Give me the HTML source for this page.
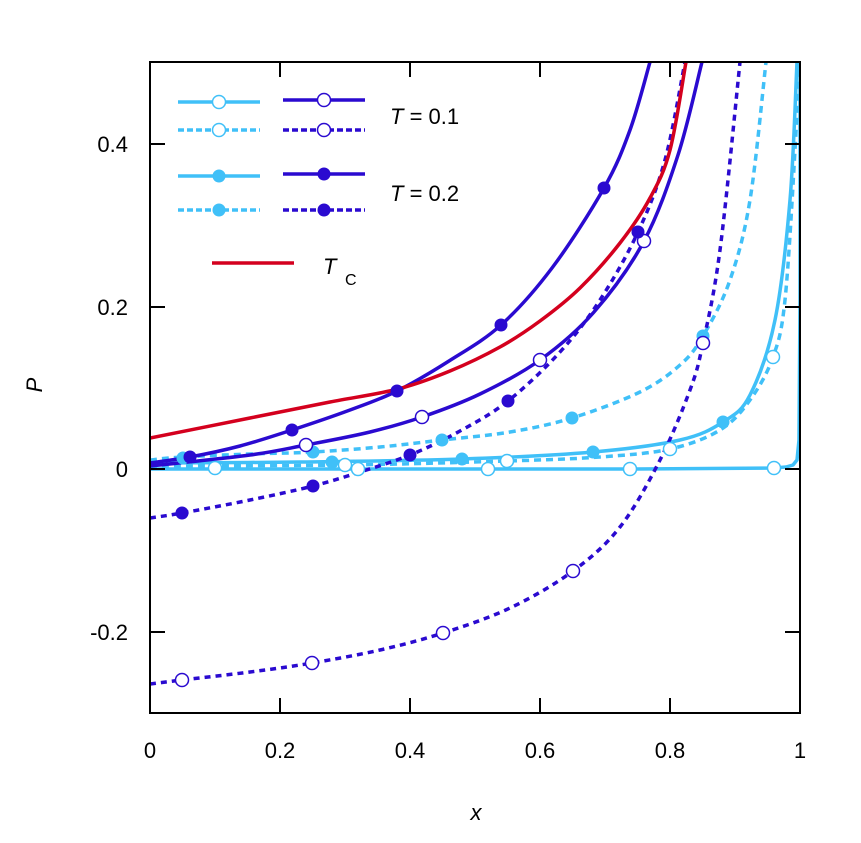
<!DOCTYPE html>
<html><head><meta charset="utf-8"><style>
body{margin:0;background:#fff}
svg{display:block;font-family:"Liberation Sans",sans-serif}
</style></head><body>
<svg id="s" width="861" height="843" viewBox="0 0 861 843">
<defs><clipPath id="c"><rect x="150" y="62" width="650" height="651"/></clipPath></defs>
<g fill="none" stroke-linejoin="round" clip-path="url(#c)">
<polyline stroke="#40c0f8" stroke-width="3.5" points="150,469 400,469 630,469 774,468 786,467 793,465 797,460 799,440 800,300 800,62"/>
<polyline class="sm" stroke="#40c0f8" stroke-width="3.5" points="150,463 300,462 462,459 593,452 680,440 723,422 750,395 775,320 790,200 797,62"/>
<polyline class="sm" stroke="#40c0f8" stroke-width="3.5" stroke-dasharray="7,5" points="150,466 345,465 507,461 600,457 670,449 720,430 750,400 773,357 785,300 795,150 799,62"/>
<polyline class="sm" stroke="#40c0f8" stroke-width="3.5" stroke-dasharray="7,5" points="150,460 182,457 250,454 313,452 380,447 442,440 510,432 572,418 640,392 680,365 703,336 730,280 750,200 766,62"/>
<polyline class="sm" stroke="#2a0ad0" stroke-width="3.5" points="150,463 190,457 240,446 292,430 350,410 397,391 449,361 501,325 552,268 604,188 630,130 650,62"/>
<polyline class="sm" stroke="#2a0ad0" stroke-width="3.5" points="150,466 250,455 306,445 370,432 422,417 480,394 540,360 594,312 644,241 678,155 702,62"/>
<polyline class="sm" stroke="#2a0ad0" stroke-width="3.5" stroke-dasharray="6,5" points="150,518 182,513 250,500 313,486 360,472 410,455 460,431 508,401 560,352 600,300 638,232 665,160 685,62"/>
<polyline class="sm" stroke="#2a0ad0" stroke-width="3.5" stroke-dasharray="6,5" points="150,684 182,680 250,672 312,663 380,650 443,633 510,608 573,571 620,527 660,460 690,390 703,343 720,250 740,62"/>
<polyline class="sm" stroke="#d4001e" stroke-width="3.5" points="150,438 250,418 330,402 398,389 450,371 500,347 540,321 580,288 620,243 650,198 670,150 686,62"/>
</g>
<g fill="#fff" stroke="#40c0f8" stroke-width="1.5">
<circle cx="215" cy="468" r="6.5"/><circle cx="358" cy="469" r="6.5"/><circle cx="488" cy="469" r="6.5"/><circle cx="630" cy="469" r="6.5"/><circle cx="774" cy="468" r="6.5"/>
<circle cx="345" cy="465" r="6.5"/><circle cx="507" cy="461" r="6.5"/><circle cx="670" cy="449" r="6.5"/><circle cx="773" cy="357" r="6.5"/>
</g>
<g fill="#40c0f8">
<circle cx="183" cy="458" r="6.5"/><circle cx="313" cy="452" r="6.5"/><circle cx="442" cy="440" r="6.5"/><circle cx="572" cy="418" r="6.5"/><circle cx="703" cy="336" r="6.5"/>
<circle cx="332" cy="462" r="6.5"/><circle cx="462" cy="459" r="6.5"/><circle cx="593" cy="452" r="6.5"/><circle cx="723" cy="422" r="6.5"/>
</g>
<g fill="#fff" stroke="#2a0ad0" stroke-width="1.5">
<circle cx="306" cy="445" r="6.5"/><circle cx="422" cy="417" r="6.5"/><circle cx="540" cy="360" r="6.5"/><circle cx="644" cy="241" r="6.5"/>
<circle cx="182" cy="680" r="6.5"/><circle cx="312" cy="663" r="6.5"/><circle cx="443" cy="633" r="6.5"/><circle cx="573" cy="571" r="6.5"/><circle cx="703" cy="343" r="6.5"/>
</g>
<g fill="#2a0ad0">
<circle cx="190" cy="457" r="6.5"/><circle cx="292" cy="430" r="6.5"/><circle cx="397" cy="391" r="6.5"/><circle cx="501" cy="325" r="6.5"/><circle cx="604" cy="188" r="6.5"/>
<circle cx="182" cy="513" r="6.5"/><circle cx="313" cy="486" r="6.5"/><circle cx="410" cy="455" r="6.5"/><circle cx="508" cy="401" r="6.5"/><circle cx="638" cy="232" r="6.5"/>
</g>
<g stroke-width="3.5">
<line x1="178" y1="102" x2="260" y2="102" stroke="#40c0f8"/>
<line x1="178" y1="130" x2="260" y2="130" stroke="#40c0f8" stroke-dasharray="6,3"/>
<line x1="178" y1="176" x2="260" y2="176" stroke="#40c0f8"/>
<line x1="178" y1="210" x2="260" y2="210" stroke="#40c0f8" stroke-dasharray="6,3"/>
<line x1="283" y1="100" x2="365" y2="100" stroke="#2a0ad0"/>
<line x1="283" y1="130" x2="365" y2="130" stroke="#2a0ad0" stroke-dasharray="6,3"/>
<line x1="283" y1="174" x2="365" y2="174" stroke="#2a0ad0"/>
<line x1="283" y1="210" x2="365" y2="210" stroke="#2a0ad0" stroke-dasharray="6,3"/>
<line x1="212" y1="263" x2="294" y2="263" stroke="#d4001e"/>
</g>
<circle cx="219" cy="102" r="6.5" fill="#fff" stroke="#40c0f8" stroke-width="1.5"/>
<circle cx="219" cy="130" r="6.5" fill="#fff" stroke="#40c0f8" stroke-width="1.5"/>
<circle cx="219" cy="176" r="6.5" fill="#40c0f8"/>
<circle cx="219" cy="210" r="6.5" fill="#40c0f8"/>
<circle cx="324" cy="100" r="6.5" fill="#fff" stroke="#2a0ad0" stroke-width="1.5"/>
<circle cx="324" cy="130" r="6.5" fill="#fff" stroke="#2a0ad0" stroke-width="1.5"/>
<circle cx="324" cy="174" r="6.5" fill="#2a0ad0"/>
<circle cx="324" cy="210" r="6.5" fill="#2a0ad0"/>
<g font-size="22" fill="#000">
<text x="390" y="124"><tspan font-style="italic">T</tspan> = 0.1</text>
<text x="390" y="201"><tspan font-style="italic">T</tspan> = 0.2</text>
<text x="323" y="274" font-style="italic">T</text>
<text x="345" y="285" font-size="16">C</text>
</g>
<rect x="150" y="62" width="650" height="651" fill="none" stroke="#000" stroke-width="2"/>
<g stroke="#000" stroke-width="2">
<path d="M280,713v-15M410,713v-15M540,713v-15M670,713v-15M280,62v15M410,62v15M540,62v15M670,62v15"/>
<path d="M150,144h15M150,307h15M150,469h15M150,632h15M800,144h-15M800,307h-15M800,469h-15M800,632h-15"/>
</g>
<g font-size="22" fill="#000" text-anchor="middle">
<text x="150" y="758">0</text><text x="280" y="758">0.2</text><text x="410" y="758">0.4</text><text x="540" y="758">0.6</text><text x="670" y="758">0.8</text><text x="800" y="758">1</text>
<text x="476" y="820" font-style="italic">x</text>
</g>
<g font-size="22" fill="#000" text-anchor="end">
<text x="128" y="152">0.4</text><text x="128" y="315">0.2</text><text x="128" y="477">0</text><text x="128" y="640">-0.2</text>
</g>
<text x="42" y="385" font-size="22" font-style="italic" text-anchor="middle" transform="rotate(-90 42 385)">P</text>
</svg>
<script>
document.querySelectorAll('polyline.sm').forEach(function(pl){
 var p=pl.getAttribute('points').trim().split(/\s+/).map(function(s){return s.split(',').map(Number);});
 var d='M'+p[0][0]+','+p[0][1];
 for(var i=0;i<p.length-1;i++){
  var p0=p[i-1]||p[i],p1=p[i],p2=p[i+1],p3=p[i+2]||p2;
  var c1=[p1[0]+(p2[0]-p0[0])/6,p1[1]+(p2[1]-p0[1])/6];
  var c2=[p2[0]-(p3[0]-p1[0])/6,p2[1]-(p3[1]-p1[1])/6];
  d+=' C'+c1[0].toFixed(1)+','+c1[1].toFixed(1)+' '+c2[0].toFixed(1)+','+c2[1].toFixed(1)+' '+p2[0]+','+p2[1];
 }
 var path=document.createElementNS('http://www.w3.org/2000/svg','path');
 ['stroke','stroke-width','stroke-dasharray'].forEach(function(a){if(pl.getAttribute(a))path.setAttribute(a,pl.getAttribute(a));});
 path.setAttribute('d',d);
 pl.parentNode.replaceChild(path,pl);
});
</script>
</body></html>
